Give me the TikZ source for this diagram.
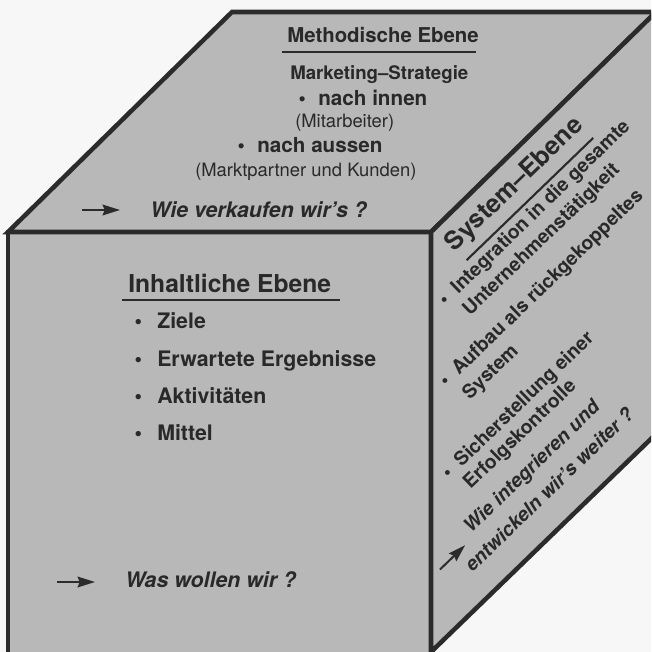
\documentclass[tikz,border=0pt]{standalone}
\usepackage{fontspec}
\setmainfont{TeX Gyre Heros}
\usetikzlibrary{arrows.meta, positioning}

\definecolor{raster}{gray}{0.72}
\definecolor{kante}{gray}{0.17}
\definecolor{tinte}{gray}{0.16}
\definecolor{papier}{gray}{0.97}
\newcommand{\pkt}[1]{\llap{\textbullet\hspace{#1}}}

\begin{document}
\begin{tikzpicture}[x=0.75pt, y=-0.75pt,
        flaeche/.style={fill=raster, draw=kante, line width=3.4pt, line join=miter},
        txt/.style={anchor=base west, inner sep=0pt, text=tinte},
        kopf/.style={txt, font=\bfseries\fontsize{15.3}{18}\selectfont},
        kopfgross/.style={txt, font=\bfseries\fontsize{18.5}{22}\selectfont},
        systitel/.style={txt, font=\bfseries\fontsize{19}{22}\selectfont},
        unterkopf/.style={txt, font=\bfseries\fontsize{14}{17}\selectfont},
        punkt/.style={txt, font=\bfseries\fontsize{15.5}{18}\selectfont},
        klammer/.style={txt, font=\fontsize{13.8}{16}\selectfont},
        liste/.style={txt, font=\bfseries\fontsize{16}{19}\selectfont},
        seite/.style={txt, font=\bfseries\fontsize{14.5}{17}\selectfont},
        frage/.style={txt, font=\bfseries\itshape\fontsize{16}{19}\selectfont},
        seitefrage/.style={txt, font=\bfseries\itshape\fontsize{14.5}{17}\selectfont},
        unterstrich/.style={draw=kante, line width=1.6pt},
        pfeil/.style={-{Stealth[length=13pt, width=8pt, inset=1.5pt]}, draw=kante, line width=1.5pt}
    ]
    \useasboundingbox (0,0) rectangle (651,652);
    \fill[papier] (0,0) rectangle (651,652);
    \clip (0,0) rectangle (651,652);

    % Corners
    \coordinate (vol) at (8,232);
    \coordinate (vor) at (431,232);
    \coordinate (vul) at (8,660);
    \coordinate (vur) at (431,660);
    \coordinate (hol) at (232,12);
    \coordinate (hor) at (656,12);
    \coordinate (hur) at (656,434);
    \coordinate (sur) at (431,652);

    % Faces
    \draw[flaeche] (vol) -- (vor) -- (vur) -- (vul) -- cycle;
    \draw[flaeche] (vol) -- (hol) -- (hor) -- (vor) -- cycle;
    \draw[flaeche] (vor) -- (hor) -- (hur) -- (sur) -- cycle;

    % Top face
    \node[kopf] (meth) at (287,43) {Methodische Ebene};
    \draw[unterstrich] (282,52) -- (476,52);
    \node[unterkopf] (strat) at (290,80) {Marketing--Strategie};
    \node[punkt] (innen) at (318,106) {\pkt{9.3pt}nach innen};
    \node[klammer] (mitarb) at (295,128) {(Mitarbeiter)};
    \node[punkt] (aussen) at (257,153) {\pkt{9.3pt}nach aussen};
    \node[klammer] (kunden) at (195,177) {(Marktpartner und Kunden)};
    \coordinate (pfeilA1) at (82,210);
    \coordinate (pfeilA2) at (120,210);
    \draw[pfeil] (pfeilA1) -- (pfeilA2);
    \node[frage] (verkauf) at (150,217) {Wie verkaufen wir's ?};

    % Front face
    \node[kopfgross] (inh) at (128,292) {Inhaltliche Ebene};
    \draw[unterstrich] (122,300) -- (340,300);
    \node[liste] (ziele) at (157,328) {\pkt{11.4pt}Ziele};
    \node[liste] (ergeb) at (157,366) {\pkt{11.4pt}Erwartete Ergebnisse};
    \node[liste] (aktiv) at (157,403) {\pkt{11.4pt}Aktivitäten};
    \node[liste] (mittel) at (157,440) {\pkt{11.4pt}Mittel};
    \coordinate (pfeilB1) at (57,582);
    \coordinate (pfeilB2) at (95,582);
    \draw[pfeil] (pfeilB1) -- (pfeilB2);
    \node[frage] (wollen) at (125,587) {Was wollen wir ?};

    % Side face
    \begin{scope}[shift={(vor)}, rotate=44, transform shape]
        \node[systitel] (sys) at (3,31) {System--Ebene};
        \draw[unterstrich] (6,45) -- (182,45);
        \node[seite] (integ) at (-24,64) {\pkt{8pt}Integration in die gesamte};
        \node[seite] (unter) at (-31,88) {Unternehmenstätigkeit};
        \node[seite] (aufbau) at (-80,123) {\pkt{8pt}Aufbau als rückgekoppeltes};
        \node[seite] (system) at (-89,148) {System};
        \node[seite] (sicher) at (-142,191) {\pkt{8pt}Sicherstellung einer};
        \node[seite] (erfolg) at (-151,213) {Erfolgskontrolle};
        \coordinate (pfeilC1) at (-228,249);
        \coordinate (pfeilC2) at (-193,249);
        \draw[pfeil] (pfeilC1) -- (pfeilC2);
        \node[seitefrage] (wie) at (-181,245) {Wie integrieren und};
        \node[seitefrage] (entw) at (-207,274) {entwickeln wir's weiter ?};
    \end{scope}
\end{tikzpicture}
\end{document}
